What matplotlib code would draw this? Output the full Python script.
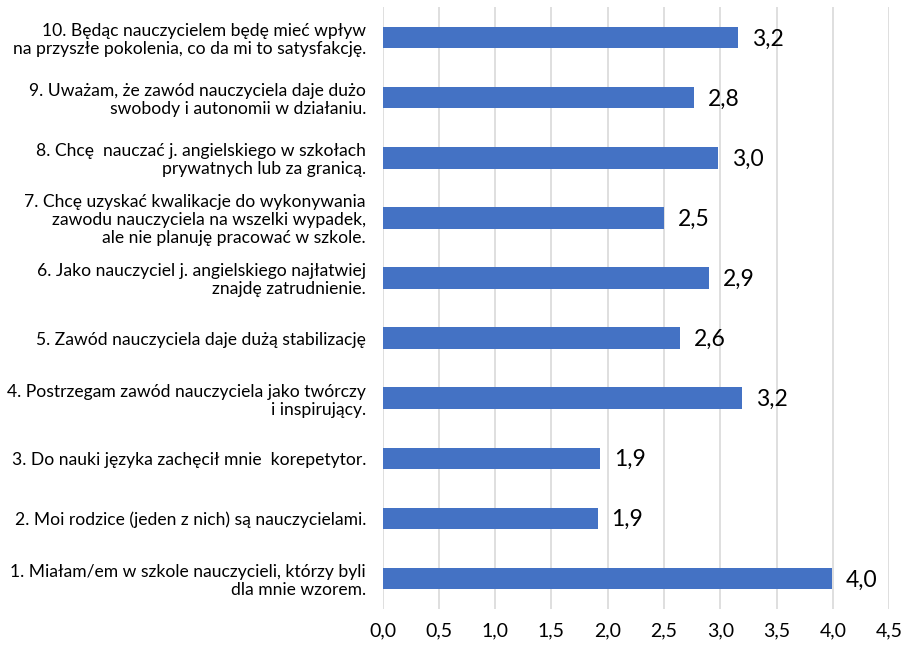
import matplotlib
matplotlib.use("Agg")
import matplotlib.pyplot as plt

plt.rcParams['font.family'] = ['Lato', 'DejaVu Sans']

categories = [
    "1. Miałam/em w szkole nauczycieli, którzy byli\ndla mnie wzorem.",
    "2. Moi rodzice (jeden z nich) są nauczycielami.",
    "3. Do nauki języka zachęcił mnie  korepetytor.",
    "4. Postrzegam zawód nauczyciela jako twórczy\ni inspirujący.",
    "5. Zawód nauczyciela daje dużą stabilizację",
    "6. Jako nauczyciel j. angielskiego najłatwiej\nznajdę zatrudnienie.",
    "7. Chcę uzyskać kwalikacje do wykonywania\nzawodu nauczyciela na wszelki wypadek,\nale nie planuję pracować w szkole.",
    "8. Chcę  nauczać j. angielskiego w szkołach\nprywatnych lub za granicą.",
    "9. Uważam, że zawód nauczyciela daje dużo\nswobody i autonomii w działaniu.",
    "10. Będąc nauczycielem będę mieć wpływ\nna przyszłe pokolenia, co da mi to satysfakcję.",
]
values = [3.99, 1.91, 1.93, 3.19, 2.64, 2.90, 2.50, 2.98, 2.77, 3.16]
x_ticks = [0.0, 0.5, 1.0, 1.5, 2.0, 2.5, 3.0, 3.5, 4.0, 4.5]

def comma(v):
    return f"{v:.1f}".replace(".", ",")

fig = plt.figure(figsize=(9.05, 6.46), dpi=100)
ax = fig.add_axes([0.4227, 0.0579, 0.9826 - 0.4227, 0.9884 - 0.0579])

ypos = list(range(len(categories)))
ax.barh(ypos, values, height=0.36, color="#4472C4", zorder=3)

for y, v in zip(ypos, values):
    ax.annotate(comma(v), xy=(v, y), xytext=(10, -1), textcoords="offset points",
                ha="left", va="center", fontsize=16.5, color="#000000")

ax.set_xlim(0, 4.5)
ax.set_ylim(-0.5, len(categories) - 0.5)
ax.set_xticks(x_ticks)
ax.set_xticklabels([comma(t) for t in x_ticks])
ax.set_yticks(ypos)
ax.set_yticklabels(categories, fontsize=12.6, ha="right", multialignment="right",
                   linespacing=1.15)
ax.grid(axis="x", color="#D9D9D9", linewidth=1.2, zorder=0)
for s in ax.spines.values():
    s.set_visible(False)
ax.tick_params(axis="both", length=0)
ax.tick_params(axis="x", labelsize=14, pad=10)
ax.tick_params(axis="y", pad=12)

fig.savefig("out.png", dpi=100)
